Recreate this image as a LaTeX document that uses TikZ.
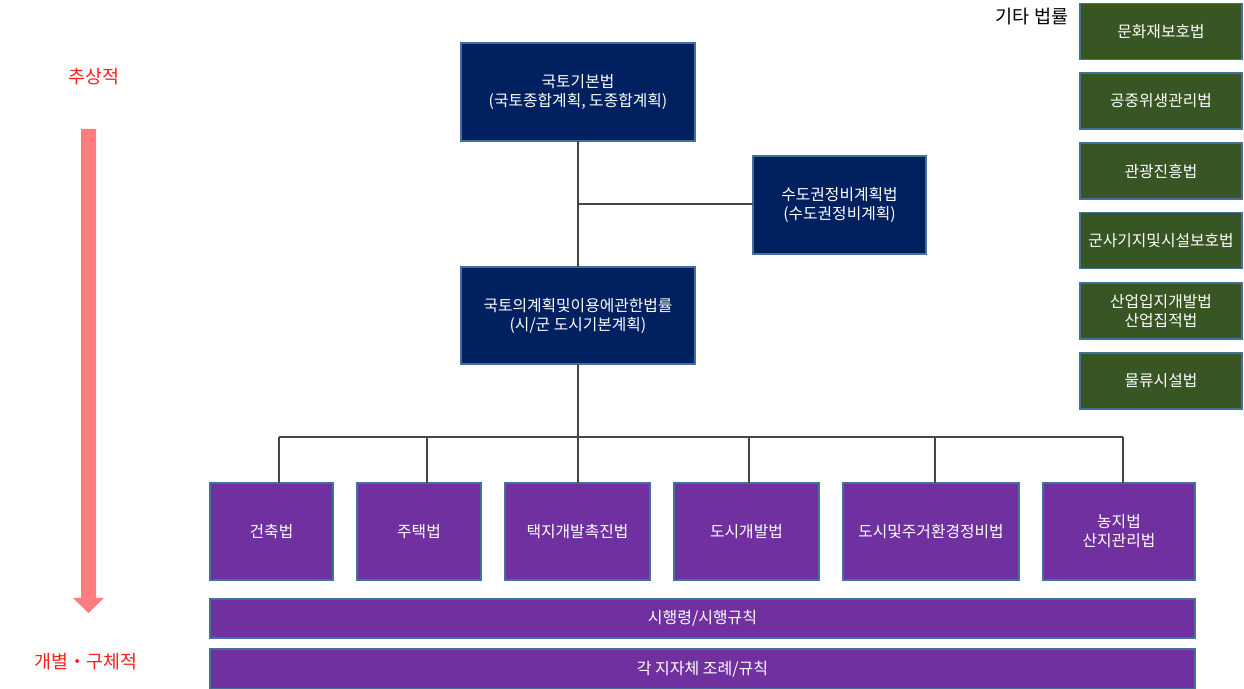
\documentclass[tikz,border=0pt]{standalone}
\usepackage{fontspec}
\setmainfont{Noto Sans CJK KR}
\definecolor{lawnavy}{RGB}{0,32,96}
\definecolor{lawpurple}{RGB}{112,48,160}
\definecolor{lawgreen}{RGB}{55,86,35}
\definecolor{lawedge}{RGB}{65,113,156}
\definecolor{lawpink}{RGB}{255,124,128}
\definecolor{lawline}{RGB}{70,70,70}
\definecolor{lawred}{RGB}{255,30,30}
\tikzset{
  lawbox/.style={draw=lawedge, line width=0.6pt, text=white, inner sep=0pt,
    outer sep=0pt, align=center, font=\fontsize{7.9}{9.5}\selectfont},
  basebox/.style={lawbox, fill=lawnavy, minimum height=49pt},
  subbox/.style={lawbox, fill=lawpurple, minimum height=48.5pt},
  barbox/.style={lawbox, fill=lawpurple, minimum width=492.5pt,
    font=\fontsize{8}{10}\selectfont},
  etcbox/.style={lawbox, fill=lawgreen, minimum width=81pt, minimum height=28pt},
  link/.style={draw=lawline, line width=0.6pt},
  side/.style={text=lawred, font=\fontsize{9.2}{11}\selectfont}
}
\begin{document}
\begin{tikzpicture}[x=0.5pt, y=-0.5pt]
  \useasboundingbox (0,0) rectangle (1244,689);
  % upper laws
  \node[basebox, minimum width=117pt] (gibon) at (578,92)
    {국토기본법\\(국토종합계획, 도종합계획)};
  \node[basebox, minimum width=86.5pt] (sudo) at (839.5,205)
    {수도권정비계획법\\(수도권정비계획)};
  \node[basebox, minimum width=117pt, minimum height=48.5pt] (gyehoek) at (578,315.5)
    {국토의계획및이용에관한법률\\(시/군 도시기본계획)};
  % individual laws
  \node[subbox, minimum width=61.5pt] (geonchuk) at (271.5,531.5) {건축법};
  \node[subbox, minimum width=62pt] (jutaek) at (419,531.5) {주택법};
  \node[subbox, minimum width=72.5pt] (taekji) at (577.5,531.5) {택지개발촉진법};
  \node[subbox, minimum width=72.5pt] (dosi) at (746.5,531.5) {도시개발법};
  \node[subbox, minimum width=88pt] (jugeo) at (931,531.5) {도시및주거환경정비법};
  \node[subbox, minimum width=76pt] (nongji) at (1119,531.5) {농지법\\산지관리법};
  % bars
  \node[barbox, minimum height=19.5pt] (sihaeng) at (702.5,618.5) {시행령/시행규칙};
  \node[barbox, minimum height=20pt] (jorye) at (702.5,669) {각 지자체 조례/규칙};
  % other laws
  \node[font=\fontsize{9.3}{11}\selectfont] (gita) at (1032,17) {기타 법률};
  \node[etcbox] (e1) at (1161,31.5) {문화재보호법};
  \node[etcbox] (e2) at (1161,101) {공중위생관리법};
  \node[etcbox] (e3) at (1161,171) {관광진흥법};
  \node[etcbox] (e4) at (1161,240.5) {군사기지및시설보호법};
  \node[etcbox] (e5) at (1161,311) {산업입지개발법\\산업집적법};
  \node[etcbox] (e6) at (1161,381) {물류시설법};
  % connectors
  \coordinate (branch) at (578,204);
  \coordinate (bus) at (578,437);
  \draw[link] (gibon) -- (gyehoek);
  \draw[link] (branch) -- (branch -| sudo.west);
  \draw[link] (gyehoek) -- (bus);
  \draw[link] (279,437) -- (1123,437);
  \foreach \x/\n in {279/geonchuk, 427/jutaek, 578/taekji, 749/dosi, 935/jugeo, 1123/nongji}
    \draw[link] (\x,437) -- (\x,437 |- \n.north);
  % abstract -> concrete
  \node[side] (chusang) at (94,77) {추상적};
  \node[side] (gubyeol) at (86,662) {개별・구체적};
  \fill[lawpink] (81,129) -- (96,129) -- (96,598) -- (104,598) -- (88.5,613)
    -- (73,598) -- (81,598) -- cycle;
\end{tikzpicture}
\end{document}
